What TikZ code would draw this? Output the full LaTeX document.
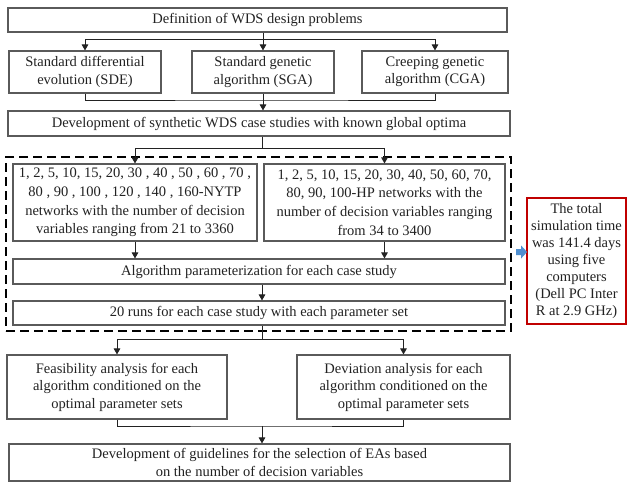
\documentclass[tikz,border=0pt]{standalone}
\usepackage{fontspec}
\setmainfont{Liberation Serif}
\usetikzlibrary{arrows.meta,calc}
\definecolor{boxgray}{HTML}{5A5A5A}
\definecolor{txt}{HTML}{222222}
\definecolor{redbox}{HTML}{C00000}
\definecolor{bluearr}{HTML}{4F8FD0}
\begin{document}
\begin{tikzpicture}[x=1pt,y=-1pt,
  box/.style={draw=boxgray, line width=1.1pt, fill=white, align=center, inner sep=0pt,
    font=\fontsize{14.5}{17.5}\selectfont, text=txt},
  tallbox/.style={box, font=\fontsize{14.5}{18.7}\selectfont},
  conn/.style={draw=txt, line width=1pt},
  arr/.style={conn, -{Triangle[length=6pt,width=6.5pt]}},
  grpbox/.style={draw=black, line width=2.2pt, dash pattern=on 9pt off 5pt},
  notebox/.style={draw=redbox, line width=2.4pt, fill=white, align=center, inner sep=0pt,
    font=\fontsize{14.5}{17}\selectfont, text=txt},
]
\fill[white] (0,0) rectangle (627,483);
\useasboundingbox (0,0) rectangle (627,483);

% dashed group box
\node[grpbox, minimum width=505pt, minimum height=174pt] (grp) at (258.5,244) {};

\node[box, minimum width=499pt, minimum height=24pt] (def) at (257.5,20) {Definition of WDS design problems};
\node[box, minimum width=152pt, minimum height=42pt] (sde) at (85,72) {Standard differential\\evolution (SDE)};
\node[box, minimum width=142pt, minimum height=42pt] (sga) at (263,72) {Standard genetic\\algorithm (SGA)};
\node[box, minimum width=146pt, minimum height=42pt] (cga) at (435,72) {Creeping genetic\\algorithm (CGA)};
\node[box, minimum width=502pt, minimum height=25pt] (dev) at (259,123.5) {Development of synthetic WDS case studies with known global optima};

\node[tallbox, minimum width=244pt, minimum height=77pt] (nytp) at (135,202.5) {1, 2, 5, 10, 15, 20, 30 , 40 , 50 , 60 , 70 ,\\80 , 90 , 100 , 120 , 140 , 160-NYTP\\networks with the number of decision\\variables ranging from 21 to 3360};
\node[tallbox, minimum width=241pt, minimum height=77pt] (hp) at (384.5,202.5) {1, 2, 5, 10, 15, 20, 30, 40, 50, 60, 70,\\80, 90, 100-HP networks with the\\number of decision variables ranging\\from 34 to 3400};
\node[box, minimum width=492pt, minimum height=25pt] (algo) at (259,271.5) {Algorithm parameterization for each case study};
\node[box, minimum width=492pt, minimum height=24pt] (runs) at (259,313) {20 runs for each case study with each parameter set};

\node[box, minimum width=220pt, minimum height=64pt] (feas) at (117,387) {Feasibility analysis for each\\algorithm conditioned on the\\optimal parameter sets};
\node[box, minimum width=213pt, minimum height=64pt] (devi) at (403.5,387) {Deviation analysis for each\\algorithm conditioned on the\\optimal parameter sets};
\node[box, minimum width=501pt, minimum height=37pt] (guide) at (259.5,462.5) {Development of guidelines for the selection of EAs based\\on the number of decision variables};

\node[notebox, minimum width=99pt, minimum height=126pt] (note) at (576.5,261) {The total\\simulation time\\was 141.4 days\\using five\\computers\\(Dell PC Inter\\R at 2.9 GHz)};

% blue block arrow between group and note
\coordinate (bl) at ($(grp.east)+(4,8)$);
\fill[bluearr] (bl) ++(0,-3) -- ++(5,0) -- ++(0,-3.5) -- ++(6,6.5) -- ++(-6,6.5) -- ++(0,-3.5) -- ++(-5,0) -- cycle;

% connectors
\coordinate (j1) at (263,39);
\draw[conn] (def.south -| j1) -- (j1);
\draw[arr] (j1) -| (sde.north);
\draw[arr] (j1) -- (sga.north);
\draw[arr] (j1) -| (cga.north);

\coordinate (j2) at (263,100);
\draw[conn] (sde.south) |- (j2) -| (cga.south);
\draw[arr] (sga.south) -- (dev.north -| sga.south);

\coordinate (j3) at (262,148);
\draw[conn] (dev.south -| j3) -- (j3);
\draw[arr] (j3) -| (nytp.north);
\draw[arr] (j3) -| (hp.north);
\draw[arr] (nytp.south) -- (nytp.south |- algo.north);
\draw[arr] (hp.south) -- (hp.south |- algo.north);
\draw[arr] (algo.south -| j3) -- (runs.north -| j3);

\coordinate (j4) at (262,339);
\draw[conn] (runs.south -| j4) -- (j4);
\draw[arr] (j4) -| (feas.north);
\draw[arr] (j4) -| (devi.north);

\coordinate (j5) at (262,426);
\draw[conn] (feas.south) |- (j5) -| (devi.south);
\draw[arr] (j5) -- (guide.north -| j5);
\end{tikzpicture}
\end{document}
